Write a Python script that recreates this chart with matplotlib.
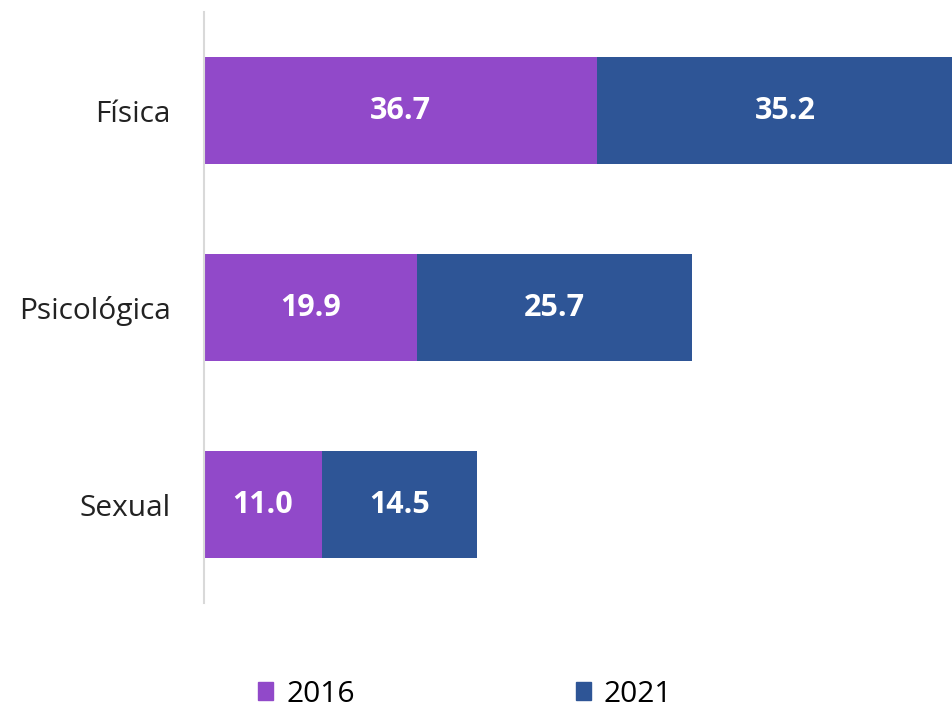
import matplotlib.pyplot as plt
from matplotlib.patches import Patch

categories = ["Física", "Psicológica", "Sexual"]
series_names = ["2016", "2021"]
v2016 = [36.7, 19.9, 11.0]
v2021 = [35.2, 25.7, 14.5]

c2016 = "#9149C9"
c2021 = "#2E5596"
font = "Open Sans"

fig = plt.figure(figsize=(9.53, 7.09), dpi=100)
ax = fig.add_axes([204/953, 106/709, 749/953, 591/709])

ypos = list(range(len(categories)))
bh = 0.54
ax.barh(ypos, v2016, height=bh, color=c2016, label=series_names[0])
ax.barh(ypos, v2021, left=v2016, height=bh, color=c2021, label=series_names[1])

for y, a, b in zip(ypos, v2016, v2021):
    ax.text(a/2, y, f"{a:.1f}", ha="center", va="center", color="white",
            fontsize=22, fontweight="bold", family=font)
    ax.text(a + b/2, y, f"{b:.1f}", ha="center", va="center", color="white",
            fontsize=22, fontweight="bold", family=font)

ax.set_xlim(0, 70.0)
ax.set_ylim(2.5, -0.5)
ax.set_yticks(ypos)
ax.set_yticklabels(categories, fontsize=21.5, family=font, color="#222222")
ax.tick_params(axis="y", length=0, pad=24)
ax.set_xticks([])
for s in ["top", "right", "bottom"]:
    ax.spines[s].set_visible(False)
ax.spines["left"].set_color("#D9D9D9")
ax.spines["left"].set_linewidth(1.5)

handles = [Patch(color=c2016), Patch(color=c2021)]
fig.legend(handles, series_names, loc="center", bbox_to_anchor=(0.488, 0.021),
           ncol=2, frameon=False, prop={"family": font, "size": 21.5},
           handlelength=0.5, handleheight=0.5, handletextpad=0.43, columnspacing=7.4)

fig.savefig("out.png", dpi=100)
